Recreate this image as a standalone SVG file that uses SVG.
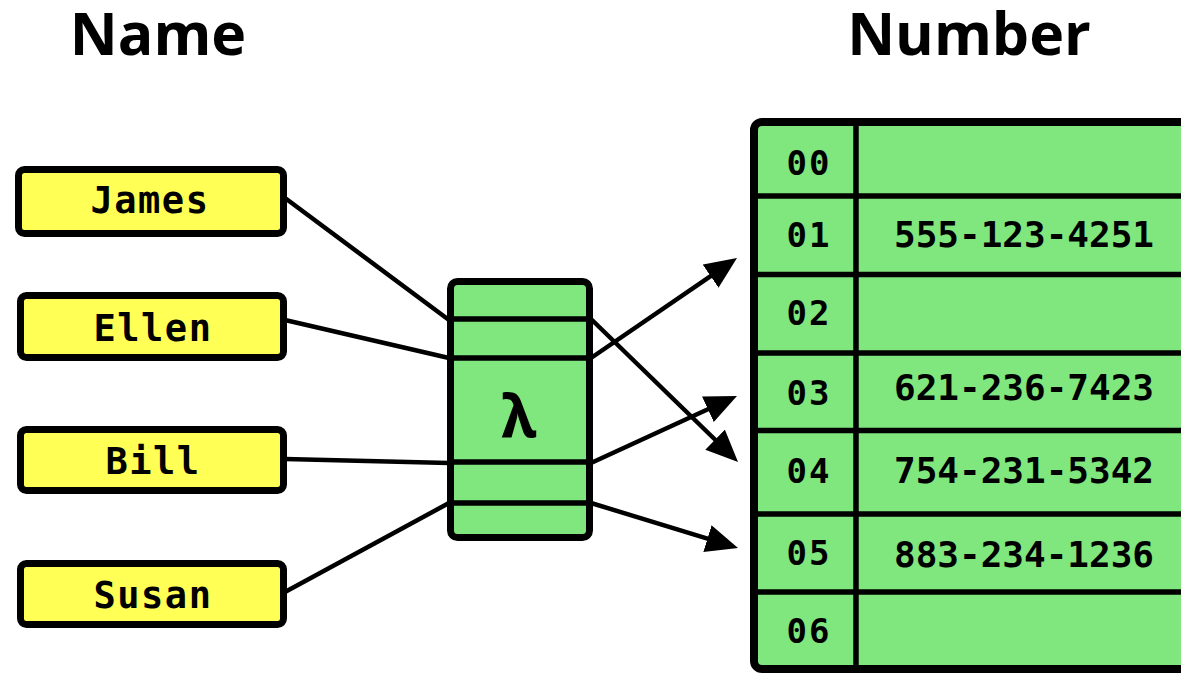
<svg xmlns="http://www.w3.org/2000/svg" width="1181" height="674" viewBox="0 0 1181 674">
  <style>
    .title { font-family: "Open Sans", "Noto Sans", "DejaVu Sans", sans-serif; font-weight: 700; font-size: 59px; fill: #000; text-anchor: middle; }
    .key { fill: #ffff55; stroke: #000; stroke-width: 7; }
    .keytxt { font-family: "DejaVu Sans Mono", "Liberation Mono", monospace; font-weight: 700; font-size: 37px; fill: #000; text-anchor: middle; letter-spacing: 1.5px; }
    .green { fill: #7fe77d; stroke: #000; }
    .sep { stroke: #000; stroke-width: 5.5; }
    .idx { font-family: "DejaVu Sans Mono", "Liberation Mono", monospace; font-weight: 700; font-size: 34px; fill: #000; text-anchor: middle; letter-spacing: 2px; }
    .val { font-family: "DejaVu Sans Mono", "Liberation Mono", monospace; font-weight: 700; font-size: 36px; fill: #000; text-anchor: middle; }
    .link { stroke: #000; stroke-width: 4.5; fill: none; }
    .arrow { stroke: #000; stroke-width: 4.5; fill: none; marker-end: url(#head); }
  </style>
  <defs>
    <marker id="head" markerUnits="userSpaceOnUse" markerWidth="32" markerHeight="28" refX="12" refY="14" orient="auto" viewBox="0 0 32 28">
      <path d="M0,0 L32,14 L0,28 z" fill="#000"/>
    </marker>
  </defs>

  <rect width="1181" height="674" fill="#fff"/>

  <!-- column headings -->
  <g id="headings">
    <text class="title" x="158" y="55">Name</text>
    <text class="title" x="969" y="55">Number</text>
  </g>

  <!-- keys into the hash function, and its outputs into the buckets -->
  <g id="connectors">
    <line class="link" x1="285" y1="198" x2="449" y2="320"/>
    <line class="link" x1="285" y1="320" x2="449" y2="358"/>
    <line class="link" x1="285" y1="459" x2="449" y2="463"/>
    <line class="link" x1="285" y1="592" x2="449" y2="503"/>
    <line class="arrow" x1="591" y1="319" x2="723.7" y2="448"/>
    <line class="arrow" x1="591" y1="358" x2="720.5" y2="269.3"/>
    <line class="arrow" x1="591" y1="463" x2="718.8" y2="404.3"/>
    <line class="arrow" x1="591" y1="503" x2="718.9" y2="542.1"/>
  </g>

  <!-- keys -->
  <g id="key-james">
    <rect class="key" x="18.5" y="169.5" width="265" height="64" rx="6"/>
    <text class="keytxt" x="150" y="213">James</text>
  </g>
  <g id="key-ellen">
    <rect class="key" x="20.5" y="295.5" width="263" height="62" rx="6"/>
    <text class="keytxt" x="153" y="341">Ellen</text>
  </g>
  <g id="key-bill">
    <rect class="key" x="20.5" y="429.5" width="263" height="61" rx="6"/>
    <text class="keytxt" x="153" y="474">Bill</text>
  </g>
  <g id="key-susan">
    <rect class="key" x="20.5" y="563.5" width="263" height="61" rx="6"/>
    <text class="keytxt" x="153" y="608">Susan</text>
  </g>

  <!-- hash function -->
  <g id="hash">
    <rect class="green" x="450.5" y="281.5" width="139" height="256" rx="7" stroke-width="7"/>
    <line class="sep" x1="450" y1="319" x2="590" y2="319"/>
    <line class="sep" x1="450" y1="358" x2="590" y2="358"/>
    <line class="sep" x1="450" y1="462" x2="590" y2="462"/>
    <line class="sep" x1="450" y1="503" x2="590" y2="503"/>
    <text x="519" y="437" font-family="'Noto Sans', 'Open Sans', 'DejaVu Sans', sans-serif" font-weight="700" font-size="60" text-anchor="middle">λ</text>
  </g>

  <!-- bucket table -->
  <g id="buckets">
    <rect class="green" x="754" y="122" width="460" height="547" rx="8" stroke-width="8"/>
    <line class="sep" x1="856" y1="122" x2="856" y2="669" stroke-width="6"/>
    <line class="sep" x1="754" y1="196" x2="1181" y2="196"/>
    <line class="sep" x1="754" y1="274.5" x2="1181" y2="274.5"/>
    <line class="sep" x1="754" y1="353" x2="1181" y2="353"/>
    <line class="sep" x1="754" y1="430.5" x2="1181" y2="430.5"/>
    <line class="sep" x1="754" y1="514" x2="1181" y2="514"/>
    <line class="sep" x1="754" y1="592" x2="1181" y2="592"/>
    <text class="idx" x="809" y="175">00</text>
    <text class="idx" x="809" y="247">01</text>
    <text class="idx" x="809" y="325">02</text>
    <text class="idx" x="809" y="405">03</text>
    <text class="idx" x="809" y="483">04</text>
    <text class="idx" x="809" y="565">05</text>
    <text class="idx" x="809" y="643">06</text>
    <text class="val" x="1024" y="247">555-123-4251</text>
    <text class="val" x="1024" y="400">621-236-7423</text>
    <text class="val" x="1024" y="483">754-231-5342</text>
    <text class="val" x="1024" y="567">883-234-1236</text>
  </g>
</svg>
